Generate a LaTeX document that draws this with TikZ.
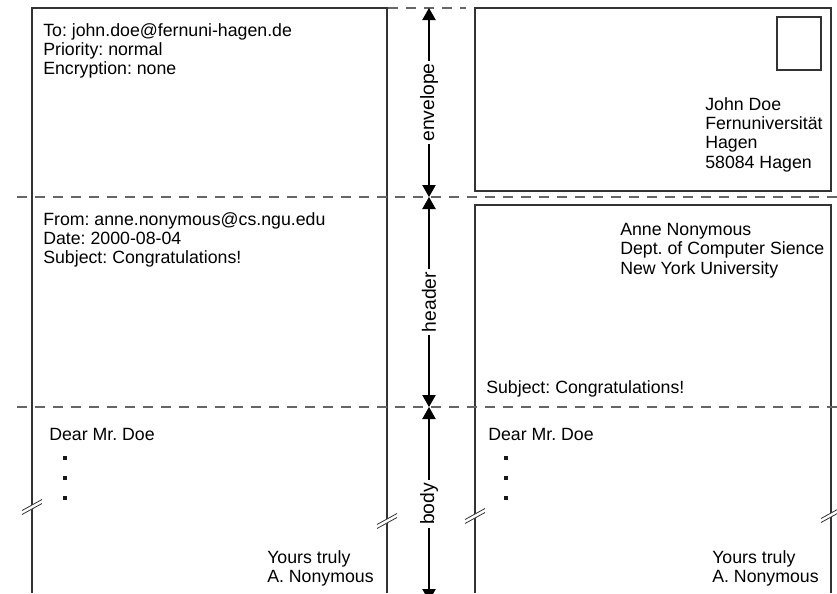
\documentclass[tikz,border=0pt]{standalone}
\usepackage{fontspec}
\setmainfont{Liberation Sans}
\usepackage{tikz}
\usetikzlibrary{arrows.meta}
\frenchspacing

\tikzset{
    frame/.style={draw=black!80, line width=0.9pt},
    sepline/.style={draw=black!60, line width=0.9pt, dash pattern=on 7.5pt off 6pt},
    dimline/.style={{Triangle[length=9pt,width=10pt]}-{Triangle[length=9pt,width=10pt]}, line width=0.8pt},
    dimlabel/.style={fill=white, rotate=90, inner sep=2pt, font=\fontsize{14.5}{16}\selectfont},
    txt/.style={anchor=north west, inner sep=0pt, align=left, text=black, font=\fontsize{13.3}{14.5}\selectfont},
}

\begin{document}
\begin{tikzpicture}[x=0.75pt, y=-0.75pt]
    \useasboundingbox (0,0) rectangle (837,593);
    \clip (0,0) rectangle (837,593);

    % message on the left: open sheet
    \draw[frame] (32,593) -- (32,8) -- (387,8) -- (387,593);

    % envelope and letter on the right
    \draw[frame] (475,8) rectangle (831,191);
    \draw[frame] (777,17) rectangle (821,70);
    \draw[frame] (475,593) -- (475,205) -- (831,205) -- (831,593);

    % section borders
    \draw[sepline] (388,8) -- (466,8);
    \draw[sepline] (17,197) -- (837,197);
    \draw[sepline] (17,407) -- (837,407);

    % break marks
    \foreach \x/\y in {32/507, 387/521, 475/516, 831/515} {
        \fill[white] (\x-9,\y+3) -- (\x+9,\y-7) -- (\x+9,\y-3) -- (\x-9,\y+7) -- cycle;
        \draw[black!80, line width=0.6pt] (\x-10,\y+3.5) -- (\x+10,\y-7.5);
        \draw[black!80, line width=0.6pt] (\x-10,\y+7.5) -- (\x+10,\y-3.5);
    }

    % dimension arrows
    \coordinate (s0) at (429,8);
    \coordinate (s1) at (429,197);
    \coordinate (s2) at (429,407);
    \coordinate (s3) at (429,601);
    \draw[dimline] (s0) -- node[dimlabel] (envlbl) {envelope} (s1);
    \draw[dimline] (s1) -- node[dimlabel] (hdrlbl) {header} (s2);
    \draw[dimline] (s2) -- node[dimlabel] (bodylbl) {body} (s3);

    % e-mail
    \node[txt] (envtxt) at (43,23) {To: john.doe@fernuni-hagen.de\\Priority: normal\\Encryption: none};
    \node[txt] (hdrtxt) at (43,212) {From: anne.nonymous@cs.ngu.edu\\Date: 2000-08-04\\Subject: Congratulations!};
    \node[txt] (dearl) at (49,428) {Dear Mr. Doe};
    \node[txt] (yoursl) at (267,550) {Yours truly\\A. Nonymous};

    % paper letter
    \node[txt] (addr) at (705,97) {John Doe\\Fernuniversität\\Hagen\\58084 Hagen};
    \node[txt] (sender) at (620,223) {Anne Nonymous\\Dept. of Computer Sience\\New York University};
    \node[txt] (subj) at (486,380) {Subject: Congratulations!};
    \node[txt] (dearr) at (488,428) {Dear Mr. Doe};
    \node[txt] (yoursr) at (712,550) {Yours truly\\A. Nonymous};

    % omitted lines
    \foreach \i/\y in {1/458, 2/478, 3/498} {
        \node[inner sep=0pt, minimum size=2.6pt, fill=black!90] (dotl\i) at (65,\y) {};
        \node[inner sep=0pt, minimum size=2.6pt, fill=black!90] (dotr\i) at (506,\y) {};
    }
\end{tikzpicture}
\end{document}
